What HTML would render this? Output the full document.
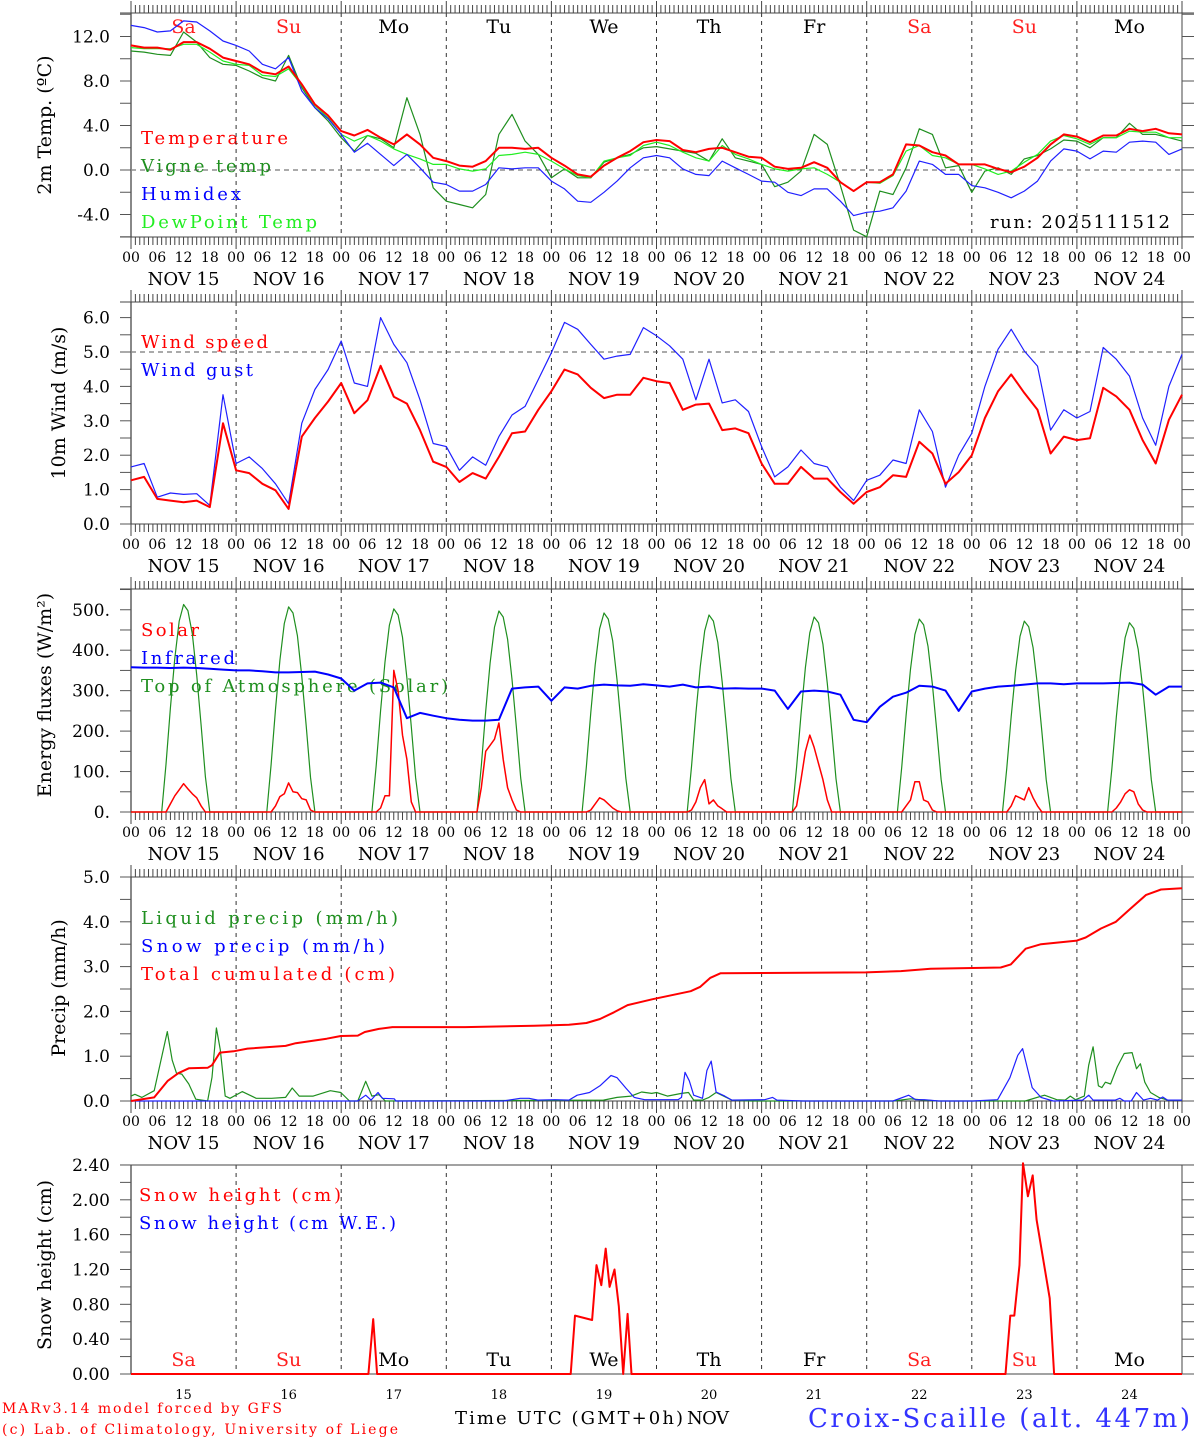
<!DOCTYPE html>
<html><head><meta charset="utf-8"><title>MAR forecast Croix-Scaille</title>
<style>
html,body{margin:0;padding:0;background:#fff;}
svg{display:block;font-family:"DejaVu Serif","Liberation Serif",serif;}
</style></head>
<body>
<svg id="chart" width="1194" height="1440" viewBox="0 0 1194 1440" xmlns="http://www.w3.org/2000/svg">
<g id="static" font-size="18">
  <text transform="translate(51,125) rotate(-90)" text-anchor="middle" font-size="19">2m Temp. (ºC)</text>
  <text transform="translate(65,403) rotate(-90)" text-anchor="middle" font-size="19">10m Wind (m/s)</text>
  <text transform="translate(51,695) rotate(-90)" text-anchor="middle" font-size="19">Energy fluxes (W/m²)</text>
  <text transform="translate(65,988) rotate(-90)" text-anchor="middle" font-size="19">Precip (mm/h)</text>
  <text transform="translate(51,1265) rotate(-90)" text-anchor="middle" font-size="19">Snow height (cm)</text>

  <text x="141" y="144" fill="#ff0000" textLength="147">Temperature</text>
  <text x="141" y="172" fill="#1f8f1f" textLength="130">Vigne temp</text>
  <text x="141" y="200" fill="#0000ff" textLength="100">Humidex</text>
  <text x="141" y="228" fill="#22ee22" textLength="176">DewPoint Temp</text>
  <text x="990" y="228" fill="#000" textLength="180">run: 2025111512</text>

  <text x="141" y="348" fill="#ff0000" textLength="127">Wind speed</text>
  <text x="141" y="376" fill="#0000ff" textLength="112">Wind gust</text>

  <text x="141" y="636" fill="#ff0000" textLength="58">Solar</text>
  <text x="141" y="664" fill="#0000ff" textLength="94">Infrared</text>
  <text x="141" y="692" fill="#1f8f1f" textLength="307">Top of Atmosphere (Solar)</text>

  <text x="141" y="924" fill="#1f8f1f" textLength="257">Liquid precip (mm/h)</text>
  <text x="141" y="952" fill="#0000ff" textLength="244">Snow precip (mm/h)</text>
  <text x="141" y="980" fill="#ff0000" textLength="254">Total cumulated (cm)</text>

  <text x="139" y="1201" fill="#ff0000" textLength="202">Snow height (cm)</text>
  <text x="139" y="1229" fill="#0000ff" textLength="257">Snow height (cm W.E.)</text>

  <text x="2" y="1413" fill="#ff0000" font-size="14" textLength="280">MARv3.14 model forced by GFS</text>
  <text x="2" y="1434" fill="#ff0000" font-size="14" textLength="396">(c) Lab. of Climatology, University of Liege</text>
  <text x="455" y="1424" fill="#000" font-size="18" textLength="228">Time UTC (GMT+0h)</text>
  <text x="687" y="1424" fill="#000" font-size="18" textLength="42">NOV</text>
  <text x="808" y="1427" fill="#3333ff" font-size="26" textLength="382">Croix-Scaille (alt. 447m)</text>
</g>
</svg>
<script>
// ---------- DATA ----------
const temperature=[11.2,11.0,11.0,10.8,11.5,11.5,10.9,10.1,9.8,9.5,8.8,8.6,9.3,7.7,5.9,4.9,3.5,3.1,3.6,2.9,2.3,3.2,2.3,1.1,0.8,0.4,0.3,0.8,2.0,2.0,1.9,2.0,1.1,0.4,-0.4,-0.6,0.4,1.1,1.7,2.5,2.7,2.6,1.8,1.6,1.9,2.0,1.6,1.2,1.1,0.3,0.1,0.2,0.7,0.2,-1.1,-1.9,-1.1,-1.1,-0.4,2.3,2.2,1.6,1.3,0.5,0.5,0.5,0.1,-0.2,0.3,1.1,2.3,3.2,3.0,2.5,3.1,3.1,3.7,3.5,3.7,3.3,3.2];
const vigneTemp=[10.7,10.6,10.4,10.3,12.4,11.5,10.1,9.5,9.4,8.9,8.3,8.0,10.3,7.4,5.6,4.4,2.9,1.7,3.1,2.8,2.0,6.5,3.2,-1.6,-2.8,-3.1,-3.4,-2.2,3.2,5.0,2.6,1.4,-0.7,0.1,-0.7,-0.7,0.7,1.1,1.4,2.0,2.1,1.9,1.7,1.5,0.8,2.8,1.1,0.8,0.5,-1.5,-1.1,-0.1,3.2,2.3,-1.4,-5.4,-6.0,-1.9,-2.2,0.2,3.7,3.2,0.2,0.4,-2.0,-0.1,0.2,-0.4,1.0,1.3,1.9,2.7,2.6,2.0,2.9,2.9,4.2,3.2,3.2,2.9,2.6];
const humidex=[13.0,12.8,12.4,12.5,13.4,13.3,12.5,11.6,11.2,10.7,9.5,9.1,10.1,7.1,5.6,4.6,3.2,1.6,2.4,1.4,0.4,1.4,0.2,-1.1,-1.3,-1.9,-1.9,-1.3,0.2,0.1,0.2,0.2,-1.0,-1.7,-2.8,-2.9,-2.0,-1.0,0.2,1.1,1.3,1.1,0.1,-0.4,-0.5,0.8,0.2,-0.4,-1.0,-1.1,-2.0,-2.3,-1.7,-1.7,-2.8,-4.1,-3.8,-3.7,-3.4,-1.9,0.8,0.5,-0.4,-0.4,-1.4,-1.6,-2.0,-2.5,-1.9,-1.0,0.8,1.9,1.7,1.0,1.7,1.6,2.5,2.6,2.5,1.4,1.9];
const dewPoint=[11.0,10.9,10.9,10.9,11.3,11.3,10.6,9.8,9.5,9.4,8.5,8.4,9.1,7.6,5.8,4.7,3.2,2.6,3.1,2.6,1.9,1.4,1.0,0.5,0.5,0.1,-0.1,0.1,1.3,1.4,1.6,1.4,0.8,0.1,-0.5,-0.7,0.8,1.1,1.3,2.2,2.5,2.2,1.6,1.1,0.8,2.2,1.4,1.0,0.5,0.1,-0.1,0.1,0.2,-0.4,-1.1,-1.9,-1.1,-1.2,-0.5,1.7,2.2,1.3,1.1,0.5,0.5,0.1,-0.4,-0.1,0.7,1.4,2.6,3.1,2.8,2.3,2.9,2.9,3.5,3.4,3.4,2.9,2.9];
const windSpeed=[1.27,1.37,0.73,0.68,0.63,0.68,0.49,2.93,1.56,1.48,1.17,0.98,0.44,2.54,3.08,3.56,4.10,3.22,3.6,4.6,3.7,3.5,2.73,1.81,1.66,1.22,1.48,1.32,1.95,2.64,2.69,3.32,3.86,4.49,4.35,3.96,3.66,3.76,3.76,4.25,4.15,4.10,3.32,3.47,3.5,2.73,2.78,2.64,1.76,1.17,1.17,1.66,1.32,1.32,0.93,0.59,0.93,1.07,1.42,1.37,2.39,2.05,1.17,1.51,2.00,3.08,3.86,4.35,3.81,3.32,2.05,2.54,2.44,2.49,3.96,3.71,3.32,2.44,1.76,3.03,3.76];
const windGust=[1.66,1.76,0.78,0.9,0.86,0.88,0.54,3.76,1.76,1.95,1.61,1.17,0.59,2.93,3.91,4.49,5.32,4.10,4.0,6.0,5.22,4.69,3.61,2.34,2.25,1.56,1.95,1.71,2.54,3.17,3.42,4.20,4.98,5.86,5.66,5.22,4.79,4.88,4.93,5.71,5.47,5.18,4.79,3.61,4.79,3.52,3.61,3.27,2.25,1.37,1.66,2.15,1.76,1.66,1.07,0.68,1.27,1.42,1.86,1.76,3.32,2.69,1.07,2.00,2.64,4.00,5.08,5.66,5.03,4.59,2.73,3.32,3.08,3.27,5.13,4.79,4.30,3.08,2.29,4.00,4.93];
const infrared=[358,357,357,356,357,356,354,352,350,350,348,345,345,346,347,340,330,300,318,320,308,232,245,238,232,228,226,226,228,305,308,310,275,308,305,312,315,313,312,316,313,310,315,308,310,305,306,305,305,300,255,298,300,298,290,228,222,260,285,295,312,310,300,250,298,305,310,312,315,318,318,316,318,318,318,319,320,315,290,310,310];
const dayHours=[7,8,9,10,11,12,13,14,15,16,17,18];
const toaSolar=[
 [0,118,257,380,472,513,498,441,339,215,87,0],
 [0,117,254,375,466,507,492,436,335,213,86,0],
 [0,115,251,371,462,502,487,432,331,211,85,0],
 [0,114,249,368,457,497,482,427,328,209,84,0],
 [0,113,246,364,453,492,477,423,325,207,84,0],
 [0,112,244,360,448,487,472,419,321,205,83,0],
 [0,111,241,357,443,482,468,415,318,202,82,0],
 [0,110,239,353,439,477,463,410,315,200,81,0],
 [0,109,236,349,434,472,458,406,312,198,80,0],
 [0,108,234,346,431,468,454,402,309,197,80,0]];
const solar=[
 [0,0,20,40,55,70,57,45,35,15,0,0],
 [0,0,15,38,45,72,50,48,33,30,5,0],
 [0,0,10,40,40,350,300,190,130,25,0,0],
 [0,60,150,165,180,220,130,60,30,5,0,0],
 [0,0,5,20,35,30,20,10,3,0,0,0],
 [0,5,25,60,80,20,30,15,8,0,0,0],
 [0,15,80,150,190,160,120,80,30,0,0,0],
 [0,0,15,30,75,75,30,25,5,0,0,0],
 [0,0,15,40,35,30,60,35,15,0,0,0],
 [0,0,10,25,45,55,50,20,5,0,0,0]];
const liquidHours=[0,0.9,2.5,5.3,8.3,9.4,10.4,11.6,13.2,14.8,17.5,18.5,19.5,20.4,21.5,22.6,25.4,28.6,32.1,35.3,36.8,38.4,41.6,45.5,47.9,49.9,51.8,53.6,55,56.6,58.1,107.9,111,114.2,116.6,118.9,120,122.5,125.7,127.3,128.5,130.5,132,133.6,137.2,141.6,174,178,181.2,184.4,204.2,208.6,211.4,213.3,214.5,215.7,217.7,218.7,219.7,220.9,221.7,222.5,223.7,225.2,226.8,228.6,229.6,230.5,231.5,232.8,234.7,236.7,240];
const liquidValues=[0.11,0.15,0.08,0.23,1.55,0.91,0.62,0.6,0.38,0.04,0,0.53,1.63,1.14,0.11,0.06,0.21,0.06,0.06,0.08,0.29,0.11,0.11,0.23,0.19,0,0,0.44,0.11,0.14,0,0.02,0.08,0.11,0.2,0.17,0.19,0.11,0.17,0.19,0.02,0.02,0.08,0.19,0.02,0,0,0.05,0.02,0,0,0.13,0.03,0.02,0.11,0.03,0.11,0.8,1.21,0.34,0.3,0.42,0.38,0.76,1.06,1.08,0.72,0.83,0.42,0.19,0.08,0.02,0.02];
const snowPrecipHours=[0,51.8,53.6,54.8,56.4,57.4,60.1,60.5,85,88.9,90.9,92.9,96.8,100,101.9,104.7,107.1,109.6,111,113,114.9,117.3,120,124.9,125.7,126.5,127.5,128.5,130.5,131.5,132.5,133.6,135.6,137.2,144.7,146.5,147.5,153.5,174,177.6,179.2,181.2,184.4,192.3,197.9,200.7,202.5,203.6,205.8,207.8,210.6,217.3,218.7,219.7,224.8,225.8,226.8,228.4,229.6,231.2,232.8,234.4,235.6,236.7,240];
const snowPrecipValues=[0,0,0.13,0.02,0.19,0.06,0.05,0,0,0.06,0.06,0.02,0.03,0.02,0.13,0.19,0.34,0.57,0.52,0.29,0.08,0.03,0.03,0.03,0.08,0.64,0.45,0.13,0.06,0.68,0.89,0.2,0.11,0.02,0.03,0.08,0.02,0,0,0.13,0.03,0.03,0,0,0.03,0.52,1.02,1.17,0.3,0.08,0,0.02,0.13,0.02,0.02,0.06,0,0,0.19,0.02,0.06,0.02,0.09,0.02,0.02];
const cumulHours=[0,5.3,8.4,10.8,13.2,17.5,18.5,20.3,23.4,26.6,35.3,37.6,44.7,47.9,51.8,53.4,56.6,59.7,76.3,92.1,100,104,107.1,110.3,113.4,119,127.8,130,132.3,134.6,167.8,175.8,182.6,198.6,200.9,204.3,207.8,216,218,221.5,224.9,228.3,231.8,235.2,240];
const cumulValues=[0,0.08,0.45,0.62,0.73,0.74,0.8,1.08,1.11,1.17,1.23,1.29,1.39,1.45,1.46,1.54,1.61,1.65,1.65,1.68,1.7,1.74,1.83,1.98,2.14,2.27,2.45,2.55,2.75,2.85,2.87,2.9,2.95,2.98,3.05,3.4,3.5,3.58,3.65,3.85,4.0,4.3,4.6,4.72,4.75];
const snowHours=[0,54.2,55.3,56.2,100.4,101.4,105.3,106.3,107.4,108.4,109.3,110.4,111.4,112.4,113.4,114.3,199.7,200.8,201.7,202.9,203.7,204.8,205.9,206.8,209.8,210.8,240];
const snowValues=[0,0,0.63,0,0,0.67,0.62,1.25,1.02,1.44,1.0,1.2,0.78,0,0.69,0,0,0.67,0.67,1.25,2.42,2.04,2.28,1.77,0.87,0,0];
const dayNames=['Sa','Su','Mo','Tu','We','Th','Fr','Sa','Su','Mo'];
const dayNums=['15','16','17','18','19','20','21','22','23','24'];
const hourLabels=['00','06','12','18'];

// ---------- DRAW ----------
const NS='http://www.w3.org/2000/svg';
const svg=document.getElementById('chart');
function mk(tag,attrs,parent){const e=document.createElementNS(NS,tag);for(const k in attrs)e.setAttribute(k,attrs[k]);(parent||svg).appendChild(e);return e;}
const X0=131,X1=1182;
function xh(h){return X0+h*(X1-X0)/240;}
const panels=[
 {name:'temperature',top:13,bot:237,y0:170,k:11.125,tmin:-6,tmax:14,tstep:2,lstep:4,dec:1,topbar:true,zero:0},
 {name:'wind',top:302,bot:524,y0:524,k:34.4,tmin:0,tmax:6.5,tstep:0.5,lstep:1,dec:1,topbar:true,zero:5},
 {name:'energy',top:589,bot:812,y0:812,k:0.4045,tmin:0,tmax:550,tstep:50,lstep:100,dec:0,topbar:true},
 {name:'precip',top:877,bot:1101,y0:1101,k:44.8,tmin:0,tmax:5,tstep:0.5,lstep:1,dec:1,topbar:true},
 {name:'snow',top:1165,bot:1374,y0:1374,k:87.1,tmin:0,tmax:2.4,tstep:0.2,lstep:0.4,dec:2,topbar:false}];
function yv(p,v){return p.y0-p.k*v;}
function fmt(v,d){return d===0?Math.round(v)+'.':v.toFixed(d);}

panels.forEach(function(p){
  const g=mk('g',{});
  
  
  for(let d=1;d<10;d++){
    const l=mk('line',{x1:xh(d*24),x2:xh(d*24),y1:p.top,y2:p.bot,stroke:'#333','stroke-width':1,'stroke-dasharray':'4,4'},g);
    
    
  }
  if(p.zero!==undefined){
    const z=mk('line',{x1:X0,x2:X1,y1:yv(p,p.zero),y2:yv(p,p.zero),stroke:'#555','stroke-width':1,'stroke-dasharray':'5,4'},g);
    
    
  }
  const f=mk('rect',{x:X0,y:p.top,width:X1-X0,height:p.bot-p.top,fill:'none',stroke:'#444','stroke-width':1},g);
  
  
  mk('line',{x1:X0,x2:X0,y1:p.top,y2:p.bot,stroke:'#888','stroke-width':2},g);
  mk('line',{x1:120,x2:1194,y1:p.top,y2:p.top,stroke:'#444','stroke-width':1},g);
  mk('line',{x1:120,x2:1194,y1:p.bot,y2:p.bot,stroke:'#444','stroke-width':1},g);
  const n=Math.round((p.tmax-p.tmin)/p.tstep);
  for(let i=0;i<=n;i++){
    const v=p.tmin+i*p.tstep;const y=yv(p,v);
    if(y<p.top-1.5)continue;
    mk('line',{x1:120,x2:X0,y1:y,y2:y,stroke:'#555','stroke-width':1},g);
    mk('line',{x1:X1,x2:1194,y1:y,y2:y,stroke:'#555','stroke-width':1},g);
    const r=Math.abs(v/p.lstep-Math.round(v/p.lstep));
    if(r<1e-6&&y>=p.top-1.5){
      const t=mk('text',{x:110,y:y+6,'text-anchor':'end','font-size':17,fill:'#000'},g);
      
      
      t.textContent=fmt(v,p.dec);
    }
  }
  if(p.topbar){
    let dt='',db='';
    for(let h=0;h<=240;h++){
      const x=xh(h).toFixed(2);const big=h%24===0;
      dt+='M'+x+' '+(p.top-(big?12:8))+'V'+p.top;
      db+='M'+x+' '+p.bot+'V'+(p.bot+(big?12:8));
    }
    const tb=mk('path',{d:dt+db,stroke:'#444','stroke-width':1,fill:'none'},g);
    
    
    for(let h=0;h<=240;h+=6){
      const t=mk('text',{x:xh(h),y:p.bot+25,'text-anchor':'middle','font-size':14,fill:'#000'},g);
      
      
      t.textContent=hourLabels[(h/6)%4];
    }
    for(let d=0;d<10;d++){
      const t=mk('text',{x:xh(d*24+12),y:p.bot+48,'text-anchor':'middle','font-size':18,fill:'#000'},g);
      
      
      t.textContent='NOV '+dayNums[d];
    }
  }
});

function poly(name,pts,color,w){
  const e=mk('polyline',{points:pts.map(function(q){return q[0].toFixed(1)+','+q[1].toFixed(1);}).join(' '),fill:'none',stroke:color,'stroke-width':w,'stroke-linejoin':'round'});
  
  
  return e;
}
function series3(p,arr){return arr.map(function(v,i){return [xh(i*3),yv(p,v)];});}
function sparse(p,hs,vs){return hs.map(function(h,i){return [xh(h),yv(p,vs[i])];});}
function daily(p,rows){
  const pts=[[xh(0),yv(p,0)]];
  rows.forEach(function(r,d){r.forEach(function(v,j){pts.push([xh(d*24+dayHours[j]),yv(p,v)]);});});
  pts.push([xh(240),yv(p,0)]);return pts;
}
const P=panels;
dayNames.forEach(function(n,d){
  const t=mk('text',{x:xh(d*24+12),y:33,'text-anchor':'middle','font-size':19,fill:(n==='Sa'||n==='Su')?'#ff2020':'#000'});
  
  
  t.textContent=n;
});
poly('vigne-temp-line',series3(P[0],vigneTemp),'#1f8f1f',1.2);
poly('dewpoint-line',series3(P[0],dewPoint),'#22ee22',1.2);
poly('humidex-line',series3(P[0],humidex),'#2020ff',1.2);
poly('temperature-line',series3(P[0],temperature),'#ff0000',2);
poly('wind-gust-line',series3(P[1],windGust),'#2020ff',1.2);
poly('wind-speed-line',series3(P[1],windSpeed),'#ff0000',2);
poly('toa-solar-line',daily(P[2],toaSolar),'#1f8f1f',1.2);
poly('solar-line',daily(P[2],solar),'#ff0000',1.5);
poly('infrared-line',series3(P[2],infrared),'#0000ff',2);
poly('liquid-precip-line',sparse(P[3],liquidHours,liquidValues),'#1f8f1f',1.2);
poly('snow-precip-line',sparse(P[3],snowPrecipHours,snowPrecipValues),'#2020ff',1.2);
poly('total-cumulated-line',sparse(P[3],cumulHours,cumulValues),'#ff0000',2);
poly('snow-height-line',sparse(P[4],snowHours,snowValues),'#ff0000',2);
dayNames.forEach(function(n,d){
  const t=mk('text',{x:xh(d*24+12),y:1366,'text-anchor':'middle','font-size':19,fill:(n==='Sa'||n==='Su')?'#ff2020':'#000'});
  
  
  t.textContent=n;
  const u=mk('text',{x:xh(d*24+12),y:1399,'text-anchor':'middle','font-size':13,fill:'#000'});
  
  
  u.textContent=dayNums[d];
});
</script>
</body></html>
